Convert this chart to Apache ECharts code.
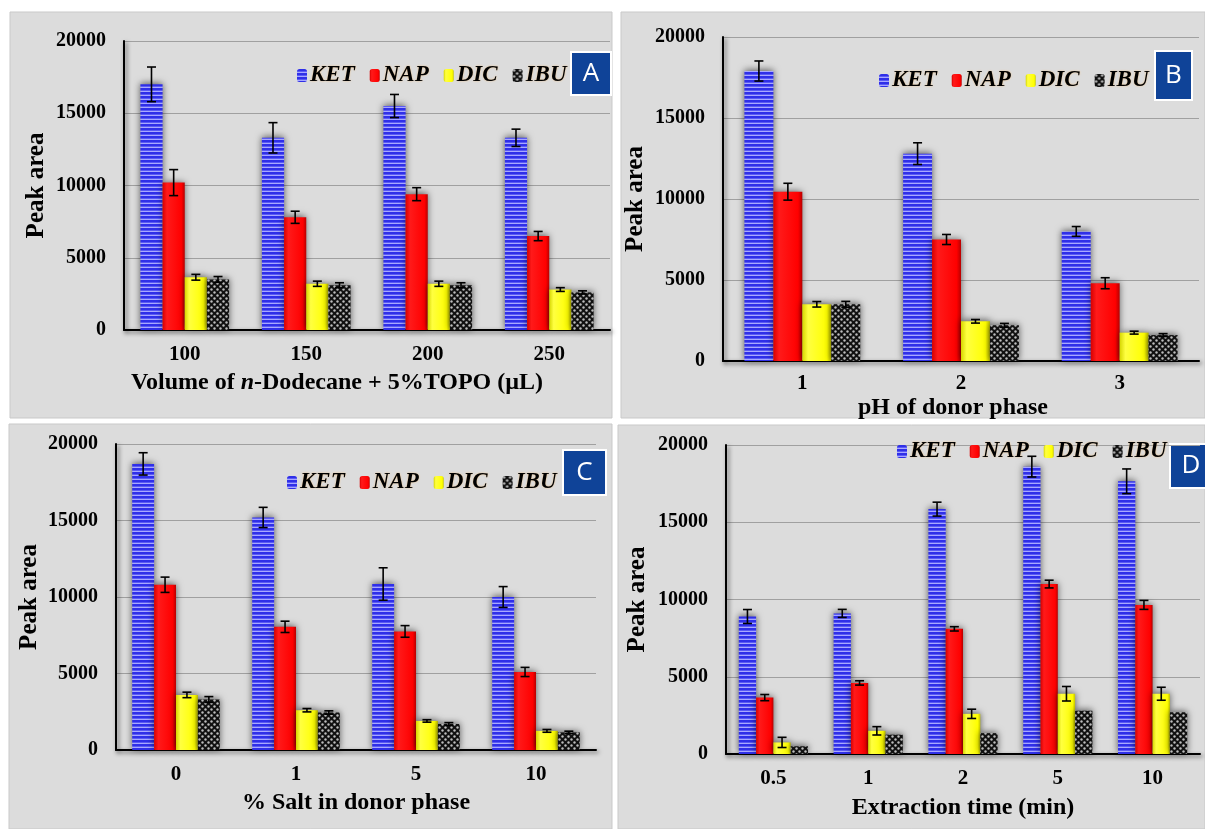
<!DOCTYPE html>
<html>
<head>
<meta charset="utf-8">
<script src="https://cdn.jsdelivr.net/npm/echarts@6/dist/echarts.min.js"></script>
<style>
html,body{margin:0;padding:0;background:#fff;}
#c{width:1205px;height:829px;}
</style>
</head>
<body>
<div id="c"></div>
<script>
// ---------------- DATA ----------------
const seriesNames = ['KET', 'NAP', 'DIC', 'IBU'];

// Panel A
const catA = ['100', '150', '200', '250'];
const ketA = [17000, 13300, 15500, 13300];
const napA = [10200, 7800, 9400, 6500];
const dicA = [3650, 3200, 3200, 2800];
const ibuA = [3500, 3100, 3100, 2600];
const ketErrA = [1200, 1050, 800, 600];
const napErrA = [900, 420, 450, 320];
const dicErrA = [200, 180, 180, 130];
const ibuErrA = [200, 170, 170, 110];

// Panel B
const catB = ['1', '2', '3'];
const ketB = [17900, 12800, 8000];
const napB = [10450, 7500, 4800];
const dicB = [3500, 2450, 1750];
const ibuB = [3500, 2200, 1600];
const ketErrB = [620, 670, 300];
const napErrB = [520, 310, 340];
const dicErrB = [170, 110, 90];
const ibuErrB = [180, 120, 90];

// Panel C
const catC = ['0', '1', '5', '10'];
const ketC = [18700, 15200, 10850, 10000];
const napC = [10800, 8050, 7750, 5100];
const dicC = [3600, 2600, 1900, 1250];
const ibuC = [3300, 2450, 1700, 1150];
const ketErrC = [730, 660, 1060, 680];
const napErrC = [500, 370, 380, 300];
const dicErrC = [180, 110, 80, 90];
const ibuErrC = [190, 110, 90, 80];

// Panel D
const catD = ['0.5', '1', '2', '5', '10'];
const ketD = [8900, 9100, 15850, 18600, 17650];
const napD = [3650, 4600, 8100, 11000, 9650];
const dicD = [750, 1500, 2600, 3900, 3900];
const ibuD = [500, 1250, 1350, 2800, 2700];
const ketErrD = [450, 260, 450, 670, 800];
const napErrD = [200, 140, 140, 250, 290];
const dicErrD = [330, 270, 300, 470, 420];
const ibuErrD = [0, 0, 0, 0, 0];

// y axis ticks
const yMin = 0, yMax = 20000, yStep = 5000;

// ---------------- STYLES ----------------
function makePattern(w, h, draw) {
  const cv = document.createElement('canvas');
  cv.width = w; cv.height = h;
  const ctx = cv.getContext('2d');
  draw(ctx);
  return { image: cv, repeat: 'repeat' };
}
const ketFill = makePattern(4, 4, ctx => {
  ctx.fillStyle = '#2f2fe8'; ctx.fillRect(0, 0, 4, 4);
  ctx.fillStyle = '#a8a8ff'; ctx.fillRect(0, 3, 4, 1);
  ctx.fillStyle = '#5a5af5'; ctx.fillRect(0, 2, 4, 1);
});
const ibuFill = makePattern(6, 6, ctx => {
  ctx.fillStyle = '#111'; ctx.fillRect(0, 0, 6, 6);
  ctx.fillStyle = '#bdbdbd';
  ctx.beginPath(); ctx.arc(1.5, 1.5, 1.2, 0, Math.PI * 2); ctx.fill();
  ctx.beginPath(); ctx.arc(4.5, 4.5, 1.2, 0, Math.PI * 2); ctx.fill();
});
const napFill = new echarts.graphic.LinearGradient(0, 0, 1, 0, [
  { offset: 0, color: '#d80000' }, { offset: 0.2, color: '#ff1a1a' },
  { offset: 0.85, color: '#ff0000' }, { offset: 1, color: '#b80000' }
]);
const dicFill = new echarts.graphic.LinearGradient(0, 0, 1, 0, [
  { offset: 0, color: '#d6d600' }, { offset: 0.2, color: '#ffff40' },
  { offset: 0.85, color: '#ffff00' }, { offset: 1, color: '#c4c400' }
]);
const fills = [ketFill, napFill, dicFill, ibuFill];

const serif = 'Liberation Serif';
const GAP = 0.27;

const panels = [
  { cats: catA, vals: [ketA, napA, dicA, ibuA], errs: [ketErrA, napErrA, dicErrA, ibuErrA],
    grid: { left: 124, top: 41, width: 486, height: 289 },
    xname: '{a|Volume of }{i|n}{a|-Dodecane + 5%TOPO (µL)}', xnamePad: [0, 60, 0, 0], xnameGap: 41, labelMargin: 14, ynameGap: 75,
    legend: { left: 292, top: 59 }, letter: 'A', box: [571, 52, 40, 43], bg: [10, 12, 602, 406] },
  { cats: catB, vals: [ketB, napB, dicB, ibuB], errs: [ketErrB, napErrB, dicErrB, ibuErrB],
    grid: { left: 723, top: 37, width: 476, height: 324 },
    xname: '{a|pH of donor phase}', xnamePad: [0, 16, 0, 0], xnameGap: 35, labelMargin: 12, ynameGap: 75,
    legend: { left: 874, top: 64 }, letter: 'B', box: [1155, 51, 37, 49], bg: [621, 12, 584, 406] },
  { cats: catC, vals: [ketC, napC, dicC, ibuC], errs: [ketErrC, napErrC, dicErrC, ibuErrC],
    grid: { left: 116, top: 444, width: 480, height: 306 },
    xname: '{a|% Salt in donor phase}', xnamePad: [0, 0, 0, 0], xnameGap: 41, labelMargin: 14, ynameGap: 74,
    legend: { left: 282, top: 466 }, letter: 'C', box: [563, 450, 43, 45], bg: [9, 424, 603, 405] },
  { cats: catD, vals: [ketD, napD, dicD, ibuD], errs: [ketErrD, napErrD, dicErrD, ibuErrD],
    grid: { left: 726, top: 445, width: 474, height: 309 },
    xname: '{a|Extraction time (min)}', xnamePad: [0, 0, 0, 0], xnameGap: 42, labelMargin: 14, ynameGap: 76,
    legend: { left: 892, top: 435 }, letter: 'D', box: [1170, 444, 42, 44], bg: [618, 425, 587, 404] }
];

const axisLine = { show: true, lineStyle: { color: '#000', width: 2, shadowColor: 'rgba(0,0,0,0.55)', shadowBlur: 4, shadowOffsetX: 2, shadowOffsetY: 2 } };

const grids = [], xAxes = [], yAxes = [], series = [], legends = [], graphics = [];

panels.forEach((p, pi) => {
  graphics.push({ type: 'rect', z: -10, shape: { x: p.bg[0], y: p.bg[1], width: p.bg[2], height: p.bg[3] },
    style: { fill: '#dcdcdc', stroke: '#c9c9c9', lineWidth: 1 } });
  graphics.push({ type: 'group', z: 100, children: [
    { type: 'rect', shape: { x: p.box[0], y: p.box[1], width: p.box[2], height: p.box[3] },
      style: { fill: '#0f4398', stroke: '#ffffff', lineWidth: 2 } },
    { type: 'text', style: { x: p.box[0] + p.box[2] / 2, y: p.box[1] + p.box[3] / 2, text: p.letter,
      fill: '#fff', font: '26px "Open Sans"', align: 'center', verticalAlign: 'middle' } }
  ]});
  grids.push(Object.assign({ containLabel: false }, p.grid));
  xAxes.push({
    type: 'category', gridIndex: pi, data: p.cats,
    axisLine: axisLine, axisTick: { show: false },
    axisLabel: { margin: p.labelMargin, color: '#000', fontFamily: serif, fontWeight: 'bold', fontSize: 21 },
    name: p.xname, nameLocation: 'middle', nameGap: p.xnameGap,
    nameTextStyle: { padding: p.xnamePad, rich: {
      a: { fontFamily: serif, fontWeight: 'bold', fontSize: 24, color: '#000' },
      i: { fontFamily: serif, fontWeight: 'bold', fontStyle: 'italic', fontSize: 24, color: '#000' }
    } }
  });
  yAxes.push({
    type: 'value', gridIndex: pi, min: yMin, max: yMax, interval: yStep,
    axisLine: axisLine, axisTick: { show: false },
    splitLine: { show: true, lineStyle: { color: '#a0a0a0', width: 1.2 } },
    axisLabel: { margin: 18, color: '#000', fontFamily: serif, fontWeight: 'bold', fontSize: 20,
      formatter: v => String(v) },
    name: 'Peak area', nameLocation: 'middle', nameGap: p.ynameGap, nameRotate: 90,
    nameTextStyle: { fontFamily: serif, fontWeight: 'bold', fontSize: 25, color: '#000' }
  });
  legends.push({
    left: p.legend.left, top: p.legend.top, orient: 'horizontal', data: seriesNames,
    itemWidth: 10, itemHeight: 13, itemGap: 15, selectedMode: false,
    textStyle: { fontFamily: serif, fontWeight: 'bold', fontStyle: 'italic', fontSize: 23, color: '#000',
      textShadowColor: 'rgba(255,170,60,0.55)', textShadowBlur: 2, padding: [0, 0, 0, -2] }
  });
  seriesNames.forEach((nm, k) => {
    series.push({
      type: 'bar', name: nm, xAxisIndex: pi, yAxisIndex: pi, data: p.vals[k],
      barGap: '0%', barCategoryGap: (GAP * 100) + '%',
      itemStyle: { color: fills[k], shadowColor: 'rgba(0,0,0,0.6)', shadowBlur: 7, shadowOffsetY: -1 },
      emphasis: { disabled: true }
    });
  });
  seriesNames.forEach((nm, k) => {
    const d = p.vals[k].map((v, i) => [i, v, p.errs[k][i]]);
    series.push({
      type: 'custom', name: nm + ' err', xAxisIndex: pi, yAxisIndex: pi, data: d, z: 10,
      encode: { x: 0, y: 1 }, silent: true,
      renderItem: function (params, api) {
        const idx = api.value(0), v = api.value(1), e = api.value(2);
        if (!e) return null;
        const catW = api.size([1, 0])[0];
        const bw = catW * (1 - GAP) / 4;
        const c = api.coord([idx, v]);
        const x = c[0] + (k - 1.5) * bw;
        const yt = api.coord([idx, v + e])[1];
        const yb = api.coord([idx, v - e])[1];
        const hw = 4.5;
        const st = { stroke: '#000', lineWidth: 1.6 };
        return { type: 'group', children: [
          { type: 'line', shape: { x1: x, y1: yt, x2: x, y2: yb }, style: st },
          { type: 'line', shape: { x1: x - hw, y1: yt, x2: x + hw, y2: yt }, style: st },
          { type: 'line', shape: { x1: x - hw, y1: yb, x2: x + hw, y2: yb }, style: st }
        ]};
      }
    });
  });
});

const chart = echarts.init(document.getElementById('c'), null, { renderer: 'canvas' });
chart.setOption({
  backgroundColor: '#ffffff',
  animation: false,
  grid: grids, xAxis: xAxes, yAxis: yAxes, legend: legends, series: series,
  graphic: graphics
});
</script>
</body>
</html>
